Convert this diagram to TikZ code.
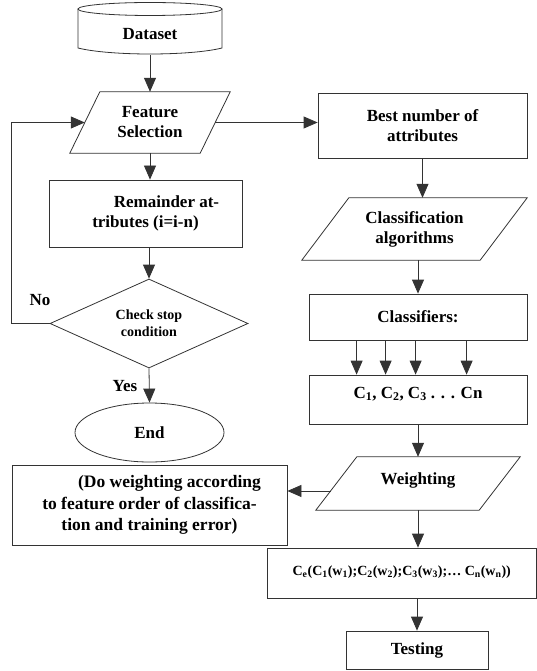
\documentclass[tikz,border=0pt]{standalone}
\usepackage{fontspec}
\setmainfont{Liberation Serif}[BoldFont={Liberation Serif Bold}]
\usetikzlibrary{arrows.meta,calc,shapes.geometric}
\begin{document}
\begin{tikzpicture}[x=1pt,y=-1pt,
  lw/.style={line width=0.8pt, draw=black!80},
  txt/.style={align=center, font=\bfseries\fontsize{17}{20}\selectfont, inner sep=0pt},
  box/.style={txt, lw, draw},
  blank/.style={txt, draw=none},
  arr/.style={lw, -{Triangle[width=12pt,length=14pt]}},
  small/.style={font=\bfseries\fontsize{14}{17}\selectfont}
]
\useasboundingbox (0,0) rectangle (537,671);
% Dataset cylinder
\draw[lw] (78,9) -- (78,48) .. controls (110,56) and (190,56) .. (222,48) -- (222,9);
\draw[lw] (150,9) ellipse (72pt and 6.5pt);
\node[blank, minimum width=144pt, minimum height=42pt] (ds) at (150,34) {Dataset};
% Feature selection
\node[blank, minimum width=160pt, minimum height=61pt] (fs) at (150,122.5) {Feature\\Selection};
\draw[lw] ($(fs.north west)+(30,0)$) -- (fs.north east) -- ($(fs.south east)-(30,0)$) -- (fs.south west) -- cycle;
\coordinate (fsl) at ($(fs.west)+(15,0)$);
\coordinate (fsr) at ($(fs.east)-(15,0)$);
% Remainder
\node[box, minimum width=193pt, minimum height=67pt] (rem) at (145.5,213.5) {\hspace*{42pt}Remainder at-\\tributes (i=i-n)};
% Diamond
\node[txt, small, lw, draw, diamond, minimum width=198pt, minimum height=89pt, aspect=2.2] (dia) at (149,323.5) {Check stop\\condition};
% End
\node[box, ellipse, minimum width=149pt, minimum height=59pt] (end) at (149.5,432.5) {End};
% Do weighting
\node[box, minimum width=275pt, minimum height=80pt, font=\bfseries\fontsize{17.5}{21.5}\selectfont] (do) at (149.5,505) {\hspace*{40pt}(Do weighting according\\to feature order of classifica-\\tion and training error)};
% Right column
\node[box, minimum width=209pt, minimum height=65pt] (best) at (422.5,125.5) {Best number of\\attributes};
\node[blank, minimum width=225pt, minimum height=62pt] (cls) at (414.5,229) {Classification\\algorithms};
\draw[lw] ($(cls.north west)+(47,0)$) -- (cls.north east) -- ($(cls.south east)-(47,0)$) -- (cls.south west) -- cycle;
\node[box, minimum width=218pt, minimum height=46pt] (clf) at (418,317) {Classifiers:};
\node[box, minimum width=218pt, minimum height=49pt, text height=12pt, text depth=15pt] (cs) at (418,399.5) {C\textsubscript{1}, C\textsubscript{2}, C\textsubscript{3} . . . Cn};
\node[blank, minimum width=204pt, minimum height=53pt, text height=12pt, text depth=11pt] (wt) at (418,483.5) {Weighting};
\draw[lw] ($(wt.north west)+(41,0)$) -- (wt.north east) -- ($(wt.south east)-(41,0)$) -- (wt.south west) -- cycle;
\coordinate (wtl) at ($(wt.south west)!0.36!(wt.north west)+(14.8,0)$);
\node[box, minimum width=269.5pt, minimum height=50pt, text height=10pt, text depth=6pt, font=\bfseries\fontsize{14}{16}\selectfont] (ce) at (401.75,573) {C\textsubscript{e}(C\textsubscript{1}(w\textsubscript{1});C\textsubscript{2}(w\textsubscript{2});C\textsubscript{3}(w\textsubscript{3});\dots\ C\textsubscript{n}(w\textsubscript{n}))};
\node[box, minimum width=142pt, minimum height=38pt] (test) at (417,650) {Testing};
% labels
\node[blank] (no) at (40,300) {No};
\node[blank] (yes) at (125,386) {Yes};
% connectors
\draw[arr] (ds.south) -- (fs.north);
\draw[arr] (fs.south) -- (fs.south |- rem.north);
\draw[arr] (dia.north |- rem.south) -- (dia.north);
\draw[arr] (dia.south) -- (end.north);
\draw[arr] (dia.west) -- ++(-38,0) |- (fsl);
\draw[arr] (fsr) -- (fsr -| best.west);
\draw[arr] (best.south) -- (best.south |- cls.north);
\draw[arr] (clf.north |- cls.south) -- (clf.north);
\foreach \o in {48,77,107,158} {
  \draw[arr] ($(clf.south west)+(\o,0)$) -- ($(cs.north west)+(\o,0)$);
}
\draw[arr] (cs.south) -- (wt.north);
\draw[arr] (wtl) -- (wtl -| do.east);
\draw[arr] (wt.south) -- (wt.south |- ce.north);
\draw[arr] (test.north |- ce.south) -- (test.north);
\end{tikzpicture}
\end{document}
